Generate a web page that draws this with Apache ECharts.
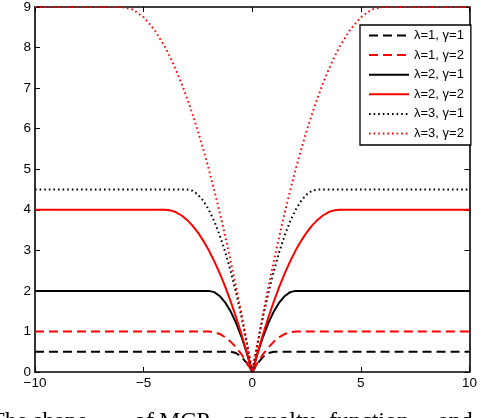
<!DOCTYPE html>
<html>
<head>
<meta charset="utf-8">
<script src="https://cdn.jsdelivr.net/npm/echarts@6/dist/echarts.min.js"></script>
<style>
html,body{margin:0;padding:0;background:#fff;}
#c{width:480px;height:418px;}
</style>
</head>
<body>
<div id="c"></div>
<script>
// x positions (t)
const xs = [-10,-9,-8,-7,-6,-5.5,-5,-4.5,-4,-3.75,-3.5,-3.25,-3,-2.75,-2.5,-2.25,-2,-1.75,-1.5,-1.25,-1,-0.75,-0.5,-0.25,0,0.25,0.5,0.75,1,1.25,1.5,1.75,2,2.25,2.5,2.75,3,3.25,3.5,3.75,4,4.5,5,5.5,6,7,8,9,10];
// λ=1, γ=1
const l1g1 = [0.5,0.5,0.5,0.5,0.5,0.5,0.5,0.5,0.5,0.5,0.5,0.5,0.5,0.5,0.5,0.5,0.5,0.5,0.5,0.5,0.5,0.469,0.375,0.219,0,0.219,0.375,0.469,0.5,0.5,0.5,0.5,0.5,0.5,0.5,0.5,0.5,0.5,0.5,0.5,0.5,0.5,0.5,0.5,0.5,0.5,0.5,0.5,0.5];
// λ=1, γ=2
const l1g2 = [1,1,1,1,1,1,1,1,1,1,1,1,1,1,1,1,1,0.984,0.938,0.859,0.75,0.609,0.438,0.234,0,0.234,0.438,0.609,0.75,0.859,0.938,0.984,1,1,1,1,1,1,1,1,1,1,1,1,1,1,1,1,1];
// λ=2, γ=1
const l2g1 = [2,2,2,2,2,2,2,2,2,2,2,2,2,2,2,2,2,1.969,1.875,1.719,1.5,1.219,0.875,0.469,0,0.469,0.875,1.219,1.5,1.719,1.875,1.969,2,2,2,2,2,2,2,2,2,2,2,2,2,2,2,2,2];
// λ=2, γ=2
const l2g2 = [4,4,4,4,4,4,4,4,4,3.984,3.938,3.859,3.75,3.609,3.438,3.234,3,2.734,2.438,2.109,1.75,1.359,0.938,0.484,0,0.484,0.938,1.359,1.75,2.109,2.438,2.734,3,3.234,3.438,3.609,3.75,3.859,3.938,3.984,4,4,4,4,4,4,4,4,4];
// λ=3, γ=1
const l3g1 = [4.5,4.5,4.5,4.5,4.5,4.5,4.5,4.5,4.5,4.5,4.5,4.5,4.5,4.469,4.375,4.219,4,3.719,3.375,2.969,2.5,1.969,1.375,0.719,0,0.719,1.375,1.969,2.5,2.969,3.375,3.719,4,4.219,4.375,4.469,4.5,4.5,4.5,4.5,4.5,4.5,4.5,4.5,4.5,4.5,4.5,4.5,4.5];
// λ=3, γ=2
const l3g2 = [9,9,9,9,9,8.938,8.75,8.438,8,7.734,7.438,7.109,6.75,6.359,5.938,5.484,5,4.484,3.938,3.359,2.75,2.109,1.438,0.734,0,0.734,1.438,2.109,2.75,3.359,3.938,4.484,5,5.484,5.938,6.359,6.75,7.109,7.438,7.734,8,8.438,8.75,8.938,9,9,9,9,9];

const names = ['λ=1, γ=1','λ=1, γ=2','λ=2, γ=1','λ=2, γ=2','λ=3, γ=1','λ=3, γ=2'];
const values = [l1g1,l1g2,l2g1,l2g2,l3g1,l3g2];
const colors = ['#000000','#ff0000','#000000','#ff0000','#000000','#ff0000'];
const dashes = [[9,5],[9,5],'solid','solid',[1.6,3],[1.6,3]];

const xTicks = {min:-10,max:10,interval:5};
const yTicks = {min:0,max:9,interval:1};

const captionWords = ['The','shape','of','MCP','penalty','function','and'];

const FONT = 'Liberation Sans, Arial, sans-serif';

const chart = echarts.init(document.getElementById('c'), null, {renderer:'canvas'});

const axisCommon = {
  axisLine:{show:true,onZero:false,lineStyle:{color:'#000',width:1.6}},
  axisTick:{show:true,inside:true,length:5,lineStyle:{color:'#000',width:1}},
  splitLine:{show:false}
};

const captionX = [-10,33,134,159,244,329,438];

chart.setOption({
  animation:false,
  backgroundColor:'#fff',
  grid:{left:35,right:8,top:5,bottom:46,containLabel:false},
  xAxis:[
    Object.assign({type:'value',position:'bottom',min:xTicks.min,max:xTicks.max,interval:xTicks.interval,
      axisLabel:{color:'#000',fontFamily:FONT,fontSize:13.5,margin:4,
        formatter:v=>String(v).replace('-','\u2212')}}, axisCommon),
    Object.assign({type:'value',position:'top',min:xTicks.min,max:xTicks.max,interval:xTicks.interval,
      axisLabel:{show:false}}, axisCommon)
  ],
  yAxis:[
    Object.assign({type:'value',position:'left',min:yTicks.min,max:yTicks.max,interval:yTicks.interval,
      axisLabel:{color:'#000',fontFamily:FONT,fontSize:13.5,margin:4}}, axisCommon),
    Object.assign({type:'value',position:'right',min:yTicks.min,max:yTicks.max,interval:yTicks.interval,
      axisLabel:{show:false}}, axisCommon)
  ],
  legend:{
    orient:'vertical',left:360,top:25,
    backgroundColor:'#fff',borderColor:'#000',borderWidth:1.3,borderRadius:0,
    padding:[4,7,5,8],itemWidth:40,itemHeight:14,itemGap:6.6,
    itemStyle:{opacity:0},
    textStyle:{color:'#000',fontFamily:FONT,fontSize:13},
    data:names
  },
  series:names.map((n,i)=>({
    name:n,type:'line',xAxisIndex:0,yAxisIndex:0,
    symbol:'none',showSymbol:false,clip:false,
    lineStyle:{color:colors[i],width:2,type:dashes[i]},
    itemStyle:{color:colors[i]},
    data:xs.map((x,k)=>[x,values[i][k]])
  })),
  graphic:captionWords.map((w,i)=>({
    type:'text',left:captionX[i],top:410,
    style:{text:w,fill:'#000',font:'24px "Liberation Serif", "Times New Roman", serif'}
  }))
});
</script>
</body>
</html>
